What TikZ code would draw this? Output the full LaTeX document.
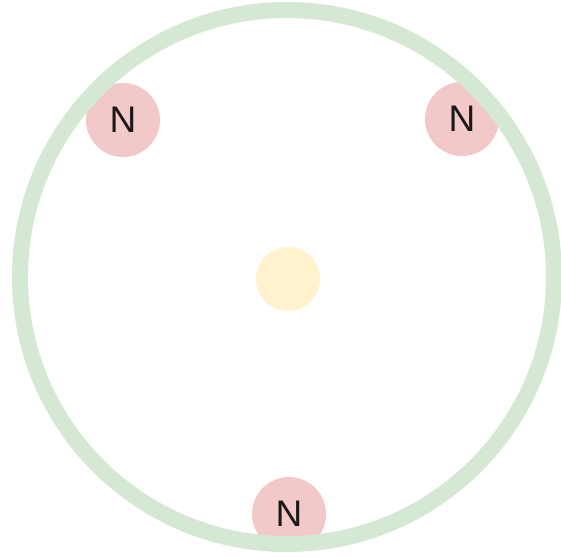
\documentclass[tikz,border=0pt]{standalone}
\usepackage{fontspec}
\setmainfont{Liberation Sans}
\definecolor{ringgreen}{HTML}{D5E8D4}
\definecolor{atompink}{HTML}{F2C8C8}
\definecolor{coreyellow}{HTML}{FFF2CC}
\begin{document}
\begin{tikzpicture}[x=1pt,y=-1pt,
 atom/.style={circle,fill=atompink,minimum size=74pt,inner sep=0pt,text=black!90,font=\fontsize{37}{37}\selectfont}]
\useasboundingbox (0,0) rectangle (561,557);
\node[atom] (atomL) at (123,120) {N};
\node[atom] (atomR) at (462,119) {N};
\node[atom] (atomB) at (289,514) {N};
\draw[ringgreen,line width=16pt] (287,277) circle[radius=267];
\node[circle,fill=coreyellow,minimum size=64pt,inner sep=0pt] (core) at (288,279) {};
\end{tikzpicture}
\end{document}
